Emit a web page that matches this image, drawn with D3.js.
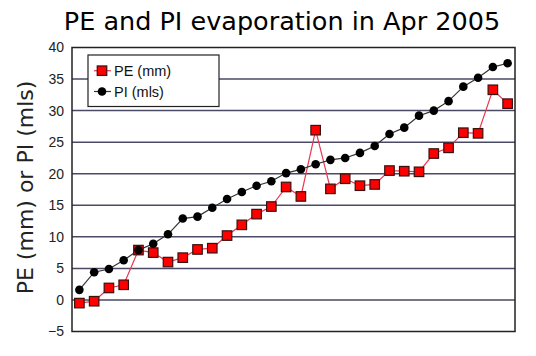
<!DOCTYPE html>
<html><head><meta charset="utf-8">
<script src="https://cdn.jsdelivr.net/npm/d3@7"></script>
<style>body{margin:0;background:#fff}svg{display:block}</style>
</head><body>
<script>
const days = d3.range(1, 31);
const peValues = [-0.5,-0.2,1.9,2.4,7.9,7.5,6.0,6.7,8.0,8.2,10.2,11.9,13.6,14.8,17.9,16.4,26.9,17.6,19.2,18.1,18.3,20.5,20.4,20.3,23.2,24.1,26.5,26.4,33.3,31.1];
const piValues = [1.6,4.4,4.9,6.3,7.9,8.9,10.4,12.9,13.2,14.6,16.0,17.1,18.1,18.8,20.1,20.7,21.5,22.2,22.5,23.3,24.4,26.3,27.3,29.2,30.0,31.5,33.8,35.2,36.9,37.5];
const yTicks = [-5,0,5,10,15,20,25,30,35,40];
const seriesNames = ["PE (mm)", "PI (mls)"];
const titleText = "PE and PI evaporation in Apr 2005";
const yLabel = "PE (mm) or PI (mls)";

const W = 536, H = 356;
const m = {left: 72, right: 21, top: 47.5, bottom: 24.5};
const svg = d3.select("body").append("svg").attr("width", W).attr("height", H);

const x = d3.scaleBand().domain(days).range([m.left, W - m.right]);
const y = d3.scaleLinear().domain([-5, 40]).range([H - m.bottom, m.top]);
const cx = d => x(d) + x.bandwidth() / 2;

// gridlines
svg.append("g").selectAll("line").data(yTicks.filter(t => t > -5 && t < 40)).join("line")
  .attr("x1", m.left).attr("x2", W - m.right)
  .attr("y1", d => y(d)).attr("y2", d => y(d))
  .attr("stroke", "#4a4a66").attr("stroke-width", 1.5);

// frame
svg.append("rect").attr("x", m.left).attr("y", m.top)
  .attr("width", W - m.left - m.right).attr("height", H - m.top - m.bottom)
  .attr("fill", "none").attr("stroke", "#222").attr("stroke-width", 1.5);

// y axis
const yAxis = d3.axisLeft(y).tickValues(yTicks).tickSize(0).tickPadding(8);
const ga = svg.append("g").attr("transform", `translate(${m.left},0)`).call(yAxis);
ga.select(".domain").remove();
ga.selectAll("text").attr("font-family", "Liberation Sans, Arial, sans-serif")
  .attr("font-size", 14).attr("fill", "#222");

// title
svg.append("text").attr("x", 282).attr("y", 30).attr("text-anchor", "middle")
  .attr("font-family", "DejaVu Sans, Verdana, sans-serif").attr("font-size", 25.5)
  .attr("fill", "#000").text(titleText);

// y label
svg.append("text").attr("transform", `translate(33,187.5) rotate(-90)`)
  .attr("text-anchor", "middle")
  .attr("font-family", "DejaVu Sans, Verdana, sans-serif").attr("font-size", 22)
  .attr("fill", "#222").text(yLabel);

const line = d3.line().x((d, i) => cx(days[i])).y(d => y(d));

svg.append("path").datum(peValues).attr("d", line).attr("fill", "none")
  .attr("stroke", "#e8384f").attr("stroke-width", 1.2);
svg.append("path").datum(piValues).attr("d", line).attr("fill", "none")
  .attr("stroke", "#333").attr("stroke-width", 1.2);

const sq = 9.5;
svg.append("g").selectAll("rect").data(peValues).join("rect")
  .attr("x", (d, i) => cx(days[i]) - sq / 2).attr("y", d => y(d) - sq / 2)
  .attr("width", sq).attr("height", sq)
  .attr("fill", "#f00").attr("stroke", "#3a1010").attr("stroke-width", 1.2);

svg.append("g").selectAll("circle").data(piValues).join("circle")
  .attr("cx", (d, i) => cx(days[i])).attr("cy", d => y(d)).attr("r", 4.3)
  .attr("fill", "#000");

// legend
const lg = svg.append("g");
lg.append("rect").attr("x", 88).attr("y", 55).attr("width", 131).attr("height", 51.5)
  .attr("fill", "#fff").attr("stroke", "#222").attr("stroke-width", 1.2);
const ly = [70.7, 91.5];
lg.append("line").attr("x1", 94).attr("x2", 111).attr("y1", ly[0]).attr("y2", ly[0]).attr("stroke", "#e8384f").attr("stroke-width", 1.2);
lg.append("rect").attr("x", 102 - sq / 2).attr("y", ly[0] - sq / 2).attr("width", sq).attr("height", sq)
  .attr("fill", "#f00").attr("stroke", "#3a1010").attr("stroke-width", 1.2);
lg.append("line").attr("x1", 94).attr("x2", 111).attr("y1", ly[1]).attr("y2", ly[1]).attr("stroke", "#333").attr("stroke-width", 1.2);
lg.append("circle").attr("cx", 102).attr("cy", ly[1]).attr("r", 4.3).attr("fill", "#000");
lg.selectAll("text.l").data(seriesNames).join("text").attr("class", "l")
  .attr("x", 114).attr("y", (d, i) => ly[i] + 5)
  .attr("font-family", "Liberation Sans, Arial, sans-serif").attr("font-size", 14.5)
  .attr("fill", "#111").text(d => d);
</script>
</body></html>
